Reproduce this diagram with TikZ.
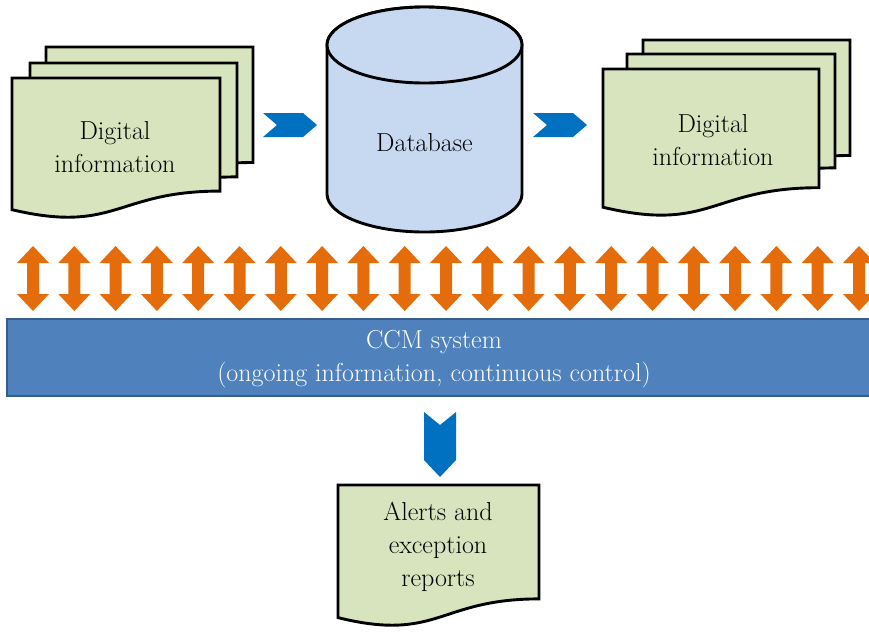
\documentclass[tikz,border=0pt]{standalone}
\usetikzlibrary{calc}
\definecolor{docgreen}{HTML}{D7E4BD}
\definecolor{dbblue}{HTML}{C6D9F1}
\definecolor{chevblue}{HTML}{0070C0}
\definecolor{arrorange}{HTML}{E46C0A}
\definecolor{barfill}{HTML}{4F81BD}
\definecolor{barline}{HTML}{385D8A}
\tikzset{
  outline/.style={draw=black, line width=2.9pt, line join=miter},
  docpage/.style={outline, fill=docgreen},
  label text/.style={font=\fontsize{26}{33}\selectfont, align=center, text=black},
  chevron/.style={fill=chevblue, draw=none},
  dblarrow/.style={fill=arrorange, draw=none},
  % flowchart "document" page: width/height
  pics/docsheet/.style args={#1/#2}{code={
    \path[docpage] (0,0) -- (#1,0) -- (#1,{0.802*#2})
      .. controls ({0.5*#1},{0.802*#2}) and ({0.5*#1},{1.1075*#2}) .. (0,{0.934*#2}) -- cycle;
  }},
  % chevron pointing right, origin at the left notch height centre
  pics/chevright/.style={code={
    \path[chevron] (0,-12) -- (40,-12) -- (54,0) -- (40,12) -- (0,12) -- (14,0) -- cycle;
  }},
  % chevron pointing down, origin at the top centre
  pics/chevdown/.style={code={
    \path[chevron] (-16,0) -- (0,13) -- (16,0) -- (16,48) -- (0,65) -- (-16,48) -- cycle;
  }},
  % vertical double-headed arrow, origin at the upper tip
  pics/updown/.style={code={
    \path[dblarrow] (0,0) -- (16,17) -- (6,17) -- (6,48) -- (16,48) -- (0,65)
      -- (-16,48) -- (-6,48) -- (-6,17) -- (-16,17) -- cycle;
  }}
}
\begin{document}
\begin{tikzpicture}[x=1pt, y=-1pt]
\useasboundingbox (0,0) rectangle (869,633);
\begin{scope}
\clip (0,0) rectangle (869,633);

% left stack of documents
\pic at (46,47) {docsheet=207/144};
\pic at (30,63) {docsheet=207/142};
\pic at (12,78) {docsheet=208/141};
\node[label text] (docL) at (115,147) {Digital\\information};

% right stack of documents
\pic at (643,40) {docsheet=207/144};
\pic at (627,54) {docsheet=208/142};
\pic at (603,69) {docsheet=216/148};
\node[label text] (docR) at (713,140) {Digital\\information};

% database cylinder
\path[outline, fill=dbblue] (327,45) -- (327,194)
  arc[start angle=180, end angle=360, x radius=97.5pt, y radius=38pt]
  -- (522,45)
  arc[start angle=0, end angle=180, x radius=97.5pt, y radius=38pt] -- cycle;
\draw[outline, fill=dbblue] (424.5,45) ellipse [x radius=97.5pt, y radius=38pt];
\node[label text] (db) at (424.5,143) {Database};

% flow chevrons
\pic at (263,125) {chevright};
\pic at (533,125) {chevright};

% exchange arrows between the sources and the CCM system
\foreach \i in {0,...,20}{
  \pic at ({33+41.3*\i},246) {updown};
}

% CCM system bar
\path[fill=barfill, draw=barline, line width=2.5pt] (7,319) rectangle (890,396);
\node[label text, text=white] (ccm) at (434,359.5)
  {CCM system\\(ongoing information, continuous control)};

% output chevron
\pic at (440,412) {chevdown};

% alerts document
\pic at (338,485) {docsheet=201/142};
\node[label text] (alerts) at (438,547) {Alerts and\\exception\\reports};
\end{scope}
\end{tikzpicture}
\end{document}
